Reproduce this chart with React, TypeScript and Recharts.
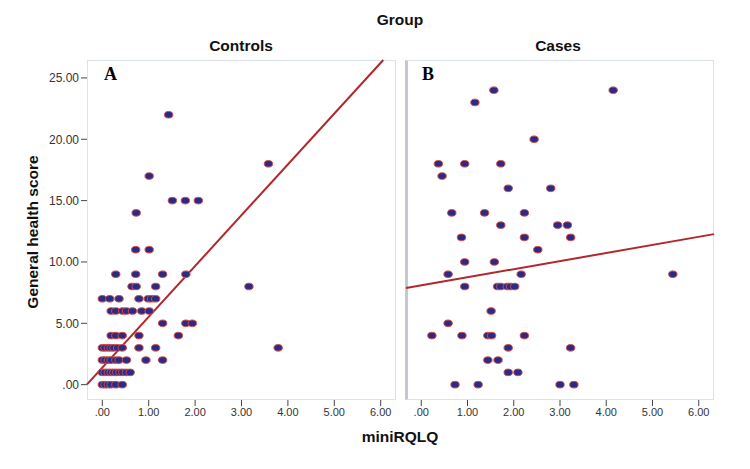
import React from 'react';
import { ScatterChart, Scatter, XAxis, YAxis, ReferenceLine } from 'recharts';

const xTicks = [0, 1, 2, 3, 4, 5, 6];
const yTicks = [0, 5, 10, 15, 20, 25];
const xDomain: [number, number] = [-0.33, 6.33];
const yDomain: [number, number] = [-1.25, 26.46];

const controlsMiniRQLQ = [
  1.43, 3.58, 1.01, 1.51, 1.79, 2.07, 0.73, 0.72, 1.01,
  0.29, 0.72, 1.30, 1.80,
  0.64, 0.73, 1.15, 3.16,
  0.00, 0.16, 0.36, 0.79, 0.99, 1.06, 1.15,
  0.19, 0.29, 0.44, 0.52, 0.65, 0.85, 1.01,
  1.30, 1.80, 1.94,
  0.19, 0.29, 0.43, 0.79, 1.64,
  0.00, 0.06, 0.13, 0.19, 0.25, 0.33, 0.43, 0.79, 1.15, 3.79,
  0.00, 0.06, 0.13, 0.19, 0.29, 0.36, 0.52, 0.94, 1.30,
  0.00, 0.06, 0.13, 0.19, 0.25, 0.31, 0.38, 0.44, 0.52, 0.60,
  0.00, 0.06, 0.13, 0.19, 0.29, 0.43,
];
const controlsHealth = [
  22, 18, 17, 15, 15, 15, 14, 11, 11,
  9, 9, 9, 9,
  8, 8, 8, 8,
  7, 7, 7, 7, 7, 7, 7,
  6, 6, 6, 6, 6, 6, 6,
  5, 5, 5,
  4, 4, 4, 4, 4,
  3, 3, 3, 3, 3, 3, 3, 3, 3, 3,
  2, 2, 2, 2, 2, 2, 2, 2, 2,
  1, 1, 1, 1, 1, 1, 1, 1, 1, 1,
  0, 0, 0, 0, 0, 0,
];

const casesMiniRQLQ = [
  1.57, 4.15, 1.16, 2.44,
  0.37, 0.94, 1.72, 0.45,
  1.88, 2.80,
  0.66, 1.37, 2.23,
  1.72, 2.95, 3.16,
  0.87, 2.23, 3.23,
  2.52, 0.94, 1.58,
  0.58, 2.16, 5.44,
  0.94, 1.65, 1.72, 1.86, 1.93, 2.02,
  1.51, 0.58,
  0.23, 0.88, 1.44, 1.52, 2.23,
  1.88, 3.23, 1.44, 1.66, 1.88, 2.09,
  0.73, 1.23, 3.00, 3.30,
];
const casesHealth = [
  24, 24, 23, 20,
  18, 18, 18, 17,
  16, 16,
  14, 14, 14,
  13, 13, 13,
  12, 12, 12,
  11, 10, 10,
  9, 9, 9,
  8, 8, 8, 8, 8, 8,
  6, 5,
  4, 4, 4, 4, 4,
  3, 3, 2, 2, 1, 1,
  0, 0, 0, 0,
];

const controlsFit = { intercept: 1.39, slope: 4.14 };
const casesFit = { intercept: 8.09, slope: 0.66 };

const toRows = (xs: number[], ys: number[]) => xs.map((x, i) => ({ x, y: ys[i] }));
const controlsData = toRows(controlsMiniRQLQ, controlsHealth);
const casesData = toRows(casesMiniRQLQ, casesHealth);

const fitSegment = (fit: { intercept: number; slope: number }) => {
  const f = (x: number) => fit.intercept + fit.slope * x;
  let x1 = xDomain[0];
  let x2 = xDomain[1];
  if (f(x2) > yDomain[1]) x2 = (yDomain[1] - fit.intercept) / fit.slope;
  if (f(x1) < yDomain[0]) x1 = (yDomain[0] - fit.intercept) / fit.slope;
  return [
    { x: x1, y: f(x1) },
    { x: x2, y: f(x2) },
  ];
};

const fmt = (v: number) => (v === 0 ? '.00' : v.toFixed(2));

const Dot = (props: any) => (
  <ellipse cx={props.cx} cy={props.cy} rx={4.2} ry={3.3} fill="#2b2b84" stroke="#d24b4b" strokeWidth={1} />
);

const sans = '"Liberation Sans", Arial, sans-serif';
const tickStyle = { fontSize: 11, fill: '#333', fontFamily: sans };

const boldText = (text: string, left: number, top: number, size = 15.5, rotate = false) => (
  <div
    style={{
      position: 'absolute',
      left,
      top,
      transform: `translate(-50%, -50%)${rotate ? ' rotate(-90deg)' : ''}`,
      fontFamily: sans,
      fontWeight: 'bold',
      fontSize: size,
      color: '#111',
      whiteSpace: 'nowrap',
    }}
  >
    {text}
  </div>
);

export default function App() {
  return (
    <div style={{ position: 'absolute', left: 0, top: 0, width: 750, height: 469, background: '#fff', overflow: 'hidden' }}>
      <div style={{ position: 'absolute', left: 87, top: 60, width: 309, height: 340, boxSizing: 'border-box', border: '1px solid #dbe2ec' }} />
      <div style={{ position: 'absolute', left: 405, top: 60, width: 309, height: 340, boxSizing: 'border-box', border: '1px solid #dbe2ec', borderLeft: '3px solid #c4c8d0' }} />

      <div style={{ position: 'absolute', left: 0, top: 0 }}>
        <ScatterChart width={400} height={469} margin={{ top: 60, right: 4, bottom: 39, left: 0 }}>
          <XAxis
            type="number"
            dataKey="x"
            domain={xDomain}
            ticks={xTicks}
            allowDataOverflow
            axisLine={false}
            tickLine={{ stroke: '#444' }}
            tickSize={6}
            tick={tickStyle}
            tickFormatter={fmt}
            height={30}
          />
          <YAxis
            type="number"
            dataKey="y"
            domain={yDomain}
            ticks={yTicks}
            allowDataOverflow
            axisLine={false}
            tickLine={{ stroke: '#444' }}
            tickSize={6}
            tick={{ ...tickStyle, fontSize: 12 }}
            tickFormatter={fmt}
            width={87}
          />
          <Scatter data={controlsData} shape={Dot} isAnimationActive={false} />
          <ReferenceLine segment={fitSegment(controlsFit)} stroke="#b3262b" strokeWidth={2} />
        </ScatterChart>
      </div>

      <div style={{ position: 'absolute', left: 400, top: 0 }}>
        <ScatterChart width={330} height={469} margin={{ top: 60, right: 16, bottom: 39, left: 6 }}>
          <XAxis
            type="number"
            dataKey="x"
            domain={xDomain}
            ticks={xTicks}
            allowDataOverflow
            axisLine={false}
            tickLine={{ stroke: '#444' }}
            tickSize={6}
            tick={tickStyle}
            tickFormatter={fmt}
            height={30}
          />
          <YAxis type="number" dataKey="y" domain={yDomain} allowDataOverflow hide width={0} />
          <Scatter data={casesData} shape={Dot} isAnimationActive={false} />
          <ReferenceLine segment={fitSegment(casesFit)} stroke="#b3262b" strokeWidth={2} />
        </ScatterChart>
      </div>

      {boldText('Group', 400, 20)}
      {boldText('Controls', 241, 46)}
      {boldText('Cases', 558, 46)}
      {boldText('miniRQLQ', 400, 437)}
      {boldText('General health score', 33, 232, 15.5, true)}

      <div style={{ position: 'absolute', left: 104, top: 64, fontFamily: '"Liberation Serif", "Times New Roman", serif', fontWeight: 'bold', fontSize: 18, color: '#000' }}>A</div>
      <div style={{ position: 'absolute', left: 422, top: 64, fontFamily: '"Liberation Serif", "Times New Roman", serif', fontWeight: 'bold', fontSize: 18, color: '#000' }}>B</div>
    </div>
  );
}
